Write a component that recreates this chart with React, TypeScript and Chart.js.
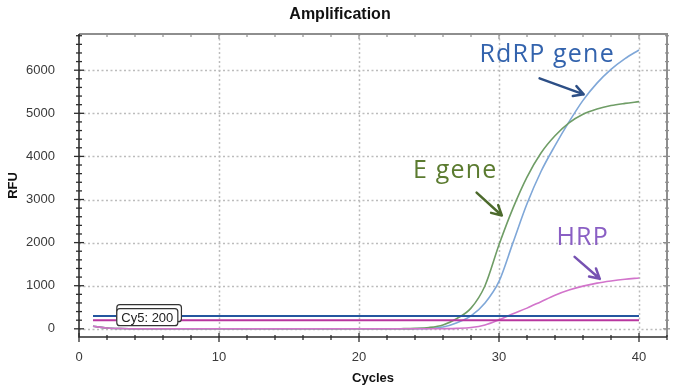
import React, { useEffect, useRef } from "react";
import { Chart, registerables } from "chart.js";

Chart.register(...registerables);

// ---------- data ----------
const cycles = [
  1, 2, 3, 4, 5, 6, 7, 8, 9, 10, 11, 12, 13, 14, 15, 16, 17, 18, 19, 20,
  21, 22, 23, 24, 25, 26, 27, 28, 29, 30, 31, 32, 33, 34, 35, 36, 37, 38, 39, 40,
];
const rdrpGene = [
  60, 20, 6, 2, 1, 0, 0, 0, 0, 0, 0, 0, 0, 0, 0, 0, 0, 0, 0, 0,
  0, 0, 0, 3, 10, 40, 140, 300, 600, 1100, 2000, 2900, 3650, 4250, 4800, 5300, 5700, 6020, 6270, 6470,
];
const eGene = [
  60, 20, 6, 2, 1, 0, 0, 0, 0, 0, 0, 0, 0, 0, 0, 0, 0, 0, 0, 0,
  0, 0, 3, 10, 30, 90, 240, 480, 1000, 1950, 2800, 3520, 4080, 4480, 4780, 4980, 5100, 5180, 5230, 5270,
];
const hrp = [
  60, 20, 6, 2, 1, 0, 0, 0, 0, 0, 0, 0, 0, 0, 0, 0, 0, 0, 0, 0,
  0, 0, 0, 0, 0, 3, 10, 30, 90, 210, 350, 480, 630, 780, 900, 990, 1060, 1110, 1150, 1180,
];
const thresholdFam = 300;
const thresholdCy5 = 200;
const thresholdLabels = ["FAM: 300", "Cy5: 200"];

const xTickValues = [0, 10, 20, 30, 40];
const yTickValues = [0, 1000, 2000, 3000, 4000, 5000, 6000];
const xMinorStep = 2;
const yMinorStep = 200;

// annotation texts (anchor in data units: cycle, RFU)
const noteTexts = ["RdRP gene", "E gene", "HRP"];
const noteTextAt = [
  [28.6, 6190],
  [23.85, 3510],
  [34.1, 1950],
];
const noteArrowFrom = [
  [32.9, 5810],
  [28.4, 3160],
  [35.4, 1670],
];
const noteArrowTo = [
  [36.05, 5440],
  [30.2, 2630],
  [37.2, 1160],
];
const noteColors = ["#3363ad", "#5b7b30", "#8a5fc4"];
const noteArrowColors = ["#2d4f86", "#4c6a2c", "#7752b2"];

const FONT = "'Liberation Sans', Arial, sans-serif";

const framePlugin = {
  id: "frameGrid",
  beforeDatasetsDraw(chart: any) {
    const { ctx, chartArea: a, scales } = chart;
    const x = scales.x;
    const y = scales.y;
    ctx.save();
    ctx.strokeStyle = "#bcbcbc";
    ctx.lineWidth = 1.5;
    ctx.setLineDash([2, 2.5]);
    for (const v of xTickValues) {
      if (v <= x.min) continue;
      const px = Math.round(x.getPixelForValue(v)) + 0.5;
      ctx.beginPath();
      ctx.moveTo(px, a.top);
      ctx.lineTo(px, a.bottom);
      ctx.stroke();
    }
    for (const v of yTickValues) {
      const py = Math.round(y.getPixelForValue(v)) + 0.5;
      ctx.beginPath();
      ctx.moveTo(a.left, py);
      ctx.lineTo(a.right, py);
      ctx.stroke();
    }
    ctx.restore();
  },
  afterDatasetsDraw(chart: any) {
    const { ctx, chartArea: a, scales } = chart;
    const x = scales.x;
    const y = scales.y;
    ctx.save();
    ctx.strokeStyle = "#8e8e8e";
    ctx.lineWidth = 2;
    ctx.beginPath();
    ctx.moveTo(a.left, a.top);
    ctx.lineTo(a.right, a.top);
    ctx.lineTo(a.right, a.bottom);
    ctx.stroke();
    ctx.lineWidth = 1.2;
    for (let v = 0; v <= x.max + 1e-6; v += xMinorStep) {
      const px = x.getPixelForValue(v);
      const major = v % 10 === 0;
      ctx.beginPath();
      ctx.moveTo(px, a.top);
      ctx.lineTo(px, a.top + (major ? 5 : 3));
      ctx.stroke();
    }
    const yStart = Math.ceil(y.min / yMinorStep) * yMinorStep;
    for (let v = yStart; v <= y.max; v += yMinorStep) {
      const py = y.getPixelForValue(v);
      const major = v % 1000 === 0;
      ctx.beginPath();
      ctx.moveTo(a.right - (major ? 4 : 2), py);
      ctx.lineTo(a.right + (major ? 3 : 2), py);
      ctx.stroke();
    }
    ctx.strokeStyle = "#2e2e2e";
    ctx.lineWidth = 1.6;
    ctx.beginPath();
    ctx.moveTo(a.left, a.top);
    ctx.lineTo(a.left, a.bottom);
    ctx.lineTo(a.right, a.bottom);
    ctx.stroke();
    ctx.lineWidth = 1.3;
    for (let v = 0; v <= x.max + 1e-6; v += xMinorStep) {
      const px = x.getPixelForValue(v);
      const major = v % 10 === 0;
      ctx.beginPath();
      ctx.moveTo(px, a.bottom - (major ? 4 : 2));
      ctx.lineTo(px, a.bottom + (major ? 5 : 3));
      ctx.stroke();
    }
    for (let v = yStart; v <= y.max; v += yMinorStep) {
      const py = y.getPixelForValue(v);
      const major = v % 1000 === 0;
      ctx.beginPath();
      ctx.moveTo(a.left - (major ? 5 : 3), py);
      ctx.lineTo(a.left + (major ? 5 : 3), py);
      ctx.stroke();
    }
    ctx.restore();
  },
};

function drawArrow(ctx: CanvasRenderingContext2D, x1: number, y1: number, x2: number, y2: number) {
  const ang = Math.atan2(y2 - y1, x2 - x1);
  const len = 11;
  ctx.beginPath();
  ctx.moveTo(x1, y1);
  ctx.lineTo(x2, y2);
  ctx.moveTo(x2 - len * Math.cos(ang - 0.5), y2 - len * Math.sin(ang - 0.5));
  ctx.lineTo(x2, y2);
  ctx.lineTo(x2 - len * Math.cos(ang + 0.5), y2 - len * Math.sin(ang + 0.5));
  ctx.stroke();
}

const overlayPlugin = {
  id: "overlay",
  afterDraw(chart: any) {
    const { ctx, scales, width } = chart;
    const x = scales.x;
    const y = scales.y;
    ctx.save();
    ctx.fillStyle = "#111";
    ctx.font = `bold 16px ${FONT}`;
    ctx.textAlign = "center";
    ctx.textBaseline = "middle";
    ctx.fillText("Amplification", width / 2, 15);

    // threshold labels (stacked boxes)
    ctx.font = `13px ${FONT}`;
    ctx.textAlign = "left";
    const bx = x.getPixelForValue(2.7);
    const byCy5 = y.getPixelForValue(thresholdCy5) - 3;
    const boxes = [byCy5 - 4, byCy5];
    boxes.forEach((cy, i) => {
      const t = thresholdLabels[i];
      const w = ctx.measureText(t).width + 9;
      const h = 17;
      ctx.fillStyle = "#ffffff";
      ctx.strokeStyle = "#333";
      ctx.lineWidth = 1.2;
      ctx.beginPath();
      (ctx as any).roundRect(bx, cy - h / 2, w, h, 3);
      ctx.fill();
      ctx.stroke();
      ctx.fillStyle = "#222";
      ctx.textBaseline = "middle";
      ctx.fillText(t, bx + 4.5, cy + 1);
    });

    // annotations
    noteTexts.forEach((t, i) => {
      const tx = x.getPixelForValue(noteTextAt[i][0]);
      const ty = y.getPixelForValue(noteTextAt[i][1]);
      ctx.font = `25px 'Open Sans', 'Noto Sans', sans-serif`;
      (ctx as any).letterSpacing = "1.2px";
      ctx.fillStyle = noteColors[i];
      ctx.textAlign = "left";
      ctx.textBaseline = "alphabetic";
      ctx.fillText(t, tx, ty);
      (ctx as any).letterSpacing = "0px";
      ctx.strokeStyle = noteArrowColors[i];
      ctx.lineWidth = 2.5;
      ctx.lineCap = "round";
      ctx.lineJoin = "round";
      drawArrow(
        ctx,
        x.getPixelForValue(noteArrowFrom[i][0]),
        y.getPixelForValue(noteArrowFrom[i][1]),
        x.getPixelForValue(noteArrowTo[i][0]),
        y.getPixelForValue(noteArrowTo[i][1])
      );
    });
    ctx.restore();
  },
};

const toPoints = (vals: number[]) => cycles.map((c, i) => ({ x: c, y: vals[i] }));
const flat = (v: number) => [
  { x: cycles[0], y: v },
  { x: cycles[cycles.length - 1], y: v },
];

export default function App() {
  const ref = useRef<HTMLCanvasElement | null>(null);
  useEffect(() => {
    if (!ref.current) return;
    const chart = new Chart(ref.current, {
      type: "line",
      data: {
        datasets: [
          { label: "FAM threshold", data: flat(thresholdFam), borderColor: "#24569f", borderWidth: 2, pointRadius: 0 },
          { label: "Cy5 threshold", data: flat(thresholdCy5), borderColor: "#b8369f", borderWidth: 2, pointRadius: 0 },
          { label: "HRP", data: toPoints(hrp), borderColor: "#d274cb", borderWidth: 1.6, pointRadius: 0, cubicInterpolationMode: "monotone" },
          { label: "E gene", data: toPoints(eGene), borderColor: "#6f9d66", borderWidth: 1.6, pointRadius: 0, cubicInterpolationMode: "monotone" },
          { label: "RdRP gene", data: toPoints(rdrpGene), borderColor: "#7fa7d8", borderWidth: 1.6, pointRadius: 0, cubicInterpolationMode: "monotone" },
        ],
      },
      options: {
        animation: false,
        responsive: true,
        maintainAspectRatio: false,
        layout: { padding: { top: 34, right: 13, left: 0, bottom: 0 } },
        plugins: { legend: { display: false }, tooltip: { enabled: false }, title: { display: false } },
        scales: {
          x: {
            type: "linear",
            min: 0,
            max: 42,
            grid: { display: false },
            border: { display: false },
            afterBuildTicks: (s: any) => {
              s.ticks = xTickValues.map((v) => ({ value: v }));
            },
            afterFit: (s: any) => {
              s.height = 54;
            },
            ticks: { padding: 5, color: "#3a3a3a", font: { family: FONT, size: 13 }, maxRotation: 0, callback: (v: any) => String(v) },
            title: { display: true, text: "Cycles", color: "#111", font: { family: FONT, size: 13, weight: "bold" }, padding: { top: 0, bottom: 5 } },
          },
          y: {
            type: "linear",
            min: -190,
            max: 6840,
            grid: { display: false },
            border: { display: false },
            afterBuildTicks: (s: any) => {
              s.ticks = yTickValues.map((v) => ({ value: v }));
            },
            afterFit: (s: any) => {
              s.width = 79;
            },
            ticks: { padding: 16, color: "#3a3a3a", font: { family: FONT, size: 13 }, callback: (v: any) => String(v) },
            title: { display: true, text: "RFU", color: "#111", font: { family: FONT, size: 13, weight: "bold" }, padding: { top: 6, bottom: 0 } },
          },
        },
      } as any,
      plugins: [framePlugin, overlayPlugin],
    });
    return () => chart.destroy();
  }, []);
  return (
    <div style={{ position: "absolute", left: 0, top: 0, width: 680, height: 391, background: "#fff" }}>
      <canvas ref={ref} />
    </div>
  );
}
